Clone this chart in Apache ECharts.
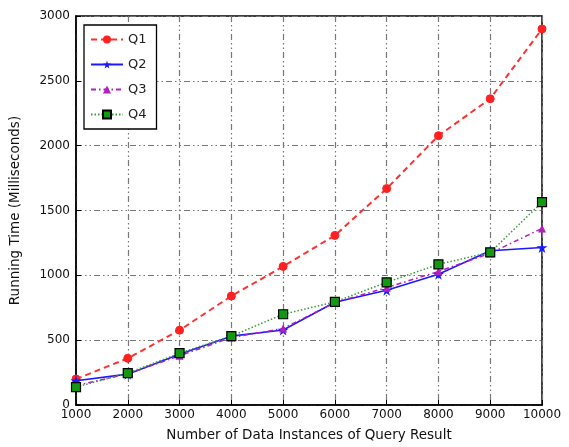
<!DOCTYPE html>
<html><head><meta charset="utf-8">
<script src="https://cdn.jsdelivr.net/npm/echarts@6/dist/echarts.min.js"></script>
<style>html,body{margin:0;padding:0;background:#fff}#c{width:569px;height:447px}</style>
</head><body><div id="c"></div>
<script>
const xValues = [1000,2000,3000,4000,5000,6000,7000,8000,9000,10000];
const q1 = [200,360,577,840,1069,1308,1669,2077,2362,2900];
const q2 = [187,238,392,531,579,792,885,1008,1190,1215];
const q3 = [150,240,380,520,590,790,905,1030,1170,1362];
const q4 = [138,246,400,531,700,795,946,1085,1177,1564];
const seriesNames = ['Q1','Q2','Q3','Q4'];
const starPath = 'path://M50,0 L61,35 L98,35 L68,57 L79,91 L50,70 L21,91 L32,57 L2,35 L39,35 Z';
const chart = echarts.init(document.getElementById('c'), null, {renderer:'canvas'});
const pairs = a => xValues.map((x,i)=>[x,a[i]]);
const font = 'DejaVu Sans';
const gridLine = {show:true, lineStyle:{color:'#777', width:1.2, type:[6,3,1.5,3,1.5,3]}};
chart.setOption({
  animation:false,
  backgroundColor:'#fff',
  grid:{left:76,right:27,top:16,bottom:41,show:true,borderColor:'#000',borderWidth:1.5,backgroundColor:'transparent'},
  legend:{
    orient:'vertical', left:84, top:25, data:seriesNames,
    itemWidth:32, itemHeight:10, itemGap:12,
    padding:[8,10,8,6],
    borderColor:'#000', borderWidth:1.3, backgroundColor:'#fff',
    textStyle:{fontFamily:font,fontSize:13,color:'#222'}
  },
  xAxis:{
    type:'value', min:1000, max:10000, interval:1000,
    name:'Number of Data Instances of Query Result', nameLocation:'middle', nameGap:23,
    nameTextStyle:{fontFamily:font,fontSize:13.5,color:'#111'},
    axisLine:{show:true,lineStyle:{color:'#000',width:1.5}},
    axisTick:{show:true,inside:true,length:5,lineStyle:{color:'#000'}},
    axisLabel:{fontFamily:font,fontSize:12,color:'#111',margin:4,formatter:v=>String(v)},
    splitLine:gridLine
  },
  yAxis:{
    type:'value', min:0, max:3000, interval:500,
    name:'Running Time (Milliseconds)', nameLocation:'middle', nameGap:54,
    nameTextStyle:{fontFamily:font,fontSize:13.5,color:'#111'},
    axisLine:{show:true,lineStyle:{color:'#000',width:1.5}},
    axisTick:{show:true,inside:true,length:5,lineStyle:{color:'#000'}},
    axisLabel:{fontFamily:font,fontSize:12,color:'#111',margin:6,formatter:v=>String(v)},
    splitLine:gridLine
  },
  series:[
    {name:'Q1',type:'line',data:pairs(q1),symbol:'circle',symbolSize:8,
      itemStyle:{color:'#ff2020',borderColor:'#ff2020'},lineStyle:{color:'#ff3030',width:2,type:[6,4]},z:2},
    {name:'Q2',type:'line',data:pairs(q2),symbol:starPath,symbolSize:11,
      itemStyle:{color:'#1a1aff'},lineStyle:{color:'#1a1aff',width:1.6,type:'solid'},z:3},
    {name:'Q3',type:'line',data:pairs(q3),symbol:'triangle',symbolSize:8,
      itemStyle:{color:'#b020c0'},lineStyle:{color:'#b020c0',width:1.5,type:[5,3,1.5,3]},z:4},
    {name:'Q4',type:'line',data:pairs(q4),symbol:'rect',symbolSize:9,
      itemStyle:{color:'#119911',borderColor:'#000',borderWidth:1.2},lineStyle:{color:'#3a9a3a',width:1.5,type:[1.5,2]},z:5}
  ]
});
</script></body></html>
